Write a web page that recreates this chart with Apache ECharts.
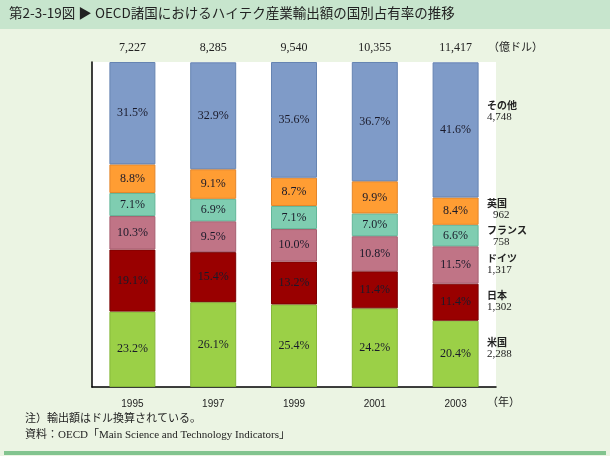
<!DOCTYPE html>
<html><head><meta charset="utf-8">
<script src="https://cdn.jsdelivr.net/npm/echarts@6/dist/echarts.min.js"></script>
<style>html,body{margin:0;padding:0;background:#EBF4E3;}#c{width:610px;height:456px;}</style>
</head><body><div id="c"></div>
<script>
const years = ['1995','1997','1999','2001','2003'];
const totals = ['7,227','8,285','9,540','10,355','11,417'];
const seriesNames = ['米国','日本','ドイツ','フランス','英国','その他'];
const usa     = [23.2, 26.1, 25.4, 24.2, 20.4];
const japan   = [19.1, 15.4, 13.2, 11.4, 11.4];
const germany = [10.3,  9.5, 10.0, 10.8, 11.5];
const france  = [ 7.1,  6.9,  7.1,  7.0,  6.6];
const uk      = [ 8.8,  9.1,  8.7,  9.9,  8.4];
const others  = [31.5, 32.9, 35.6, 36.7, 41.6];
const values2003 = ['2,288','1,302','1,317','758','962','4,748'];

const colors  = ['#9BD047','#990000','#C07486','#7FCDB1','#FF9D33','#7F9BC8'];
const borders = ['#86B83A','#7A0000','#A65E70','#62B698','#E3852A','#6684B2'];
const dataSets = [usa, japan, germany, france, uk, others];

const serif = "'Liberation Serif','DejaVu Serif','Noto Sans CJK JP',serif";
const jp = "'Noto Sans CJK JP',sans-serif";

const series = dataSets.map((d, i) => ({
  name: seriesNames[i], type: 'bar', stack: 'a', barWidth: 46,
  data: d,
  itemStyle: {color: colors[i], borderColor: borders[i], borderWidth: 1},
  label: {show: true, position: 'inside', formatter: p => p.value.toFixed(1) + '%',
          fontFamily: serif, fontSize: 12, color: '#1a1a2a'}
}));
series.push({
  name: 'total', type: 'bar', stack: 'a', barWidth: 46,
  data: totals.map(() => 0),
  itemStyle: {color: 'transparent'},
  label: {show: true, position: 'top', distance: 8,
          formatter: p => totals[p.dataIndex], fontFamily: serif, fontSize: 12, color: '#222'}
});

// right side annotations (name, value) for 2003
const rightLabels = [
  {n: 'その他', v: values2003[5], y: 106, ind: 0},
  {n: '英国', v: values2003[4], y: 204, ind: 6},
  {n: 'フランス', v: values2003[3], y: 231, ind: 6},
  {n: 'ドイツ', v: values2003[2], y: 259, ind: 0},
  {n: '日本', v: values2003[1], y: 296, ind: 0},
  {n: '米国', v: values2003[0], y: 343, ind: 0}
];
const graphics = [
  {type: 'rect', shape: {x: 0, y: 0, width: 610, height: 29}, style: {fill: '#C7E5CD'}, z: -10},
  {type: 'rect', shape: {x: 92, y: 62, width: 404, height: 325}, style: {fill: '#ffffff'}, z: -10},
  {type: 'rect', shape: {x: 4, y: 451, width: 602, height: 4}, style: {fill: '#82C48F'}, z: -10},
  {type: 'text', left: 9, top: 6, style: {text: '第2-3-19図 ▶ OECD諸国におけるハイテク産業輸出額の国別占有率の推移', font: '13.5px ' + jp, fill: '#222'}},
  {type: 'text', left: 488, top: 41, style: {text: '（億ドル）', font: '11px ' + jp, fill: '#222'}},
  {type: 'text', left: 487, top: 396, style: {text: '（年）', font: '11px ' + jp, fill: '#222'}},
  {type: 'text', left: 25, top: 414, style: {text: '注）輸出額はドル換算されている。', font: '11px ' + serif, fill: '#222'}},
  {type: 'text', left: 25, top: 430, style: {text: '資料：OECD「Main Science and Technology Indicators」', font: '11px ' + serif, fill: '#222'}}
];
rightLabels.forEach(r => {
  graphics.push({type: 'text', left: 487, top: r.y - 6, style: {text: r.n, font: 'bold 10px ' + jp, fill: '#222'}});
  graphics.push({type: 'text', left: 487 + r.ind, top: r.y + 6, style: {text: r.v, font: '11px ' + serif, fill: '#222'}});
});

const chart = echarts.init(document.getElementById('c'));
chart.setOption({
  backgroundColor: '#EBF4E3',
  animation: false,
  grid: {left: 92, right: 114, top: 62, bottom: 69, containLabel: false},
  xAxis: {type: 'category', data: years, axisTick: {show: false},
          axisLine: {lineStyle: {color: '#000', width: 1.5}},
          axisLabel: {fontFamily: "'Liberation Sans',Arial,sans-serif", fontSize: 10, color: '#222', margin: 12}},
  yAxis: {type: 'value', min: 0, max: 100, axisLabel: {show: false}, splitLine: {show: false},
          axisLine: {show: true, lineStyle: {color: '#000', width: 1.5}}, axisTick: {show: false}},
  series: series,
  graphic: graphics
});
</script></body></html>
